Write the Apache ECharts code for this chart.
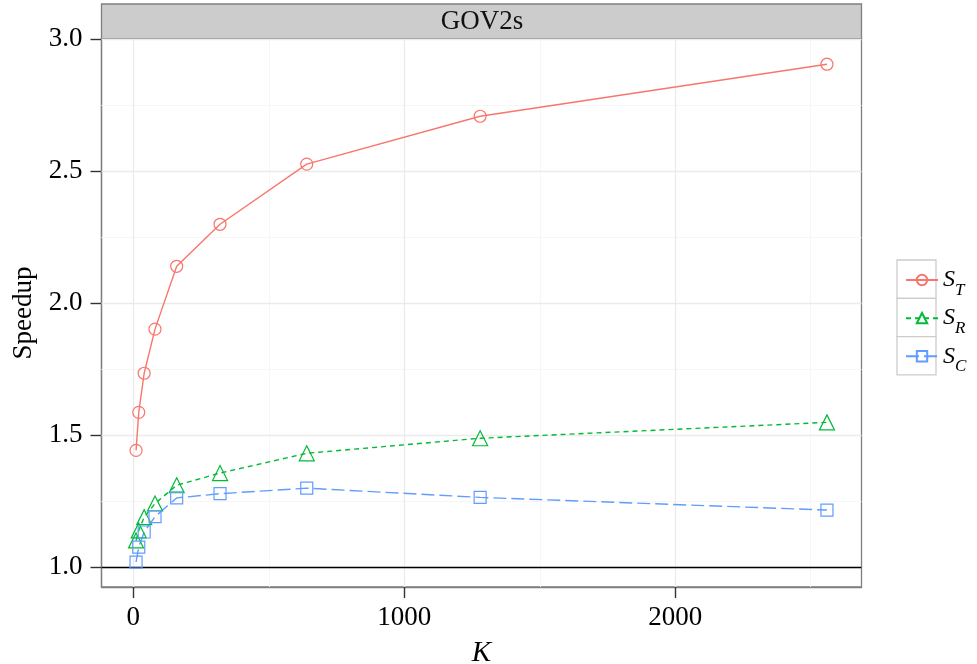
<!DOCTYPE html>
<html>
<head>
<meta charset="utf-8">
<script src="https://cdn.jsdelivr.net/npm/echarts@6/dist/echarts.min.js"></script>
<style>
html,body{margin:0;padding:0;background:#fff;}
#c{width:977px;height:664px;}
</style>
</head>
<body>
<div id="c"></div>
<script>
// ---- data ----
var K = [10, 20, 40, 80, 160, 320, 640, 1280, 2560];
var S_T = [1.443, 1.587, 1.735, 1.902, 2.140, 2.299, 2.527, 2.708, 2.905];
var S_R = [1.102, 1.140, 1.190, 1.242, 1.311, 1.357, 1.432, 1.489, 1.549];
var S_C = [1.020, 1.077, 1.134, 1.192, 1.263, 1.279, 1.300, 1.265, 1.217];
var xTicks = [0, 1000, 2000];
var xMinor = [500, 1500, 2500];
var yTicks = [1.0, 1.5, 2.0, 2.5, 3.0];
var yMinor = [1.25, 1.75, 2.25, 2.75];
var panelTitle = 'GOV2s';
var hlineY = 1;

var FONT = 'Liberation Serif';
var colors = {T: '#F8766D', R: '#00BA38', C: '#619CFF'};

function pairs(ys) { return K.map(function (k, i) { return [k, ys[i]]; }); }

var allY = S_T.concat(S_R, S_C);
var yLo = Math.min.apply(null, allY), yHi = Math.max.apply(null, allY);
var xLo = Math.min.apply(null, K), xHi = Math.max.apply(null, K);
var ex = (xHi - xLo) * 0.05, ey = (yHi - yLo) * 0.05;
var yMax = Math.max(yHi + ey, yTicks[yTicks.length - 1] + 0.0005);

var gridLines = [];
xMinor.forEach(function (v) { gridLines.push({xAxis: v, lineStyle: {color: '#F6F6F6', width: 1, type: 'solid'}}); });
yMinor.forEach(function (v) { gridLines.push({yAxis: v, lineStyle: {color: '#F6F6F6', width: 1, type: 'solid'}}); });
xTicks.forEach(function (v) { gridLines.push({xAxis: v, lineStyle: {color: '#EBEBEB', width: 1.3, type: 'solid'}}); });
yTicks.forEach(function (v) { gridLines.push({yAxis: v, lineStyle: {color: '#EBEBEB', width: 1.3, type: 'solid'}}); });
gridLines.push({yAxis: hlineY, lineStyle: {color: '#000', width: 1.4, type: 'solid'}});

function mkSeries(name, ys, color, symbol, size, dash) {
  return {
    name: name, type: 'line', data: pairs(ys), z: 3,
    symbol: symbol, symbolSize: size, showSymbol: true,
    lineStyle: {color: color, width: 1.4, type: dash},
    itemStyle: {color: 'rgba(255,255,255,0)', borderColor: color, borderWidth: 1.2},
    emphasis: {disabled: true}
  };
}

var chart = echarts.init(document.getElementById('c'), null, {renderer: 'canvas'});
chart.setOption({
  animation: false,
  backgroundColor: '#fff',
  grid: {left: 101.5, right: 115.5, top: 39, bottom: 77, show: true, containLabel: false,
         outerBoundsMode: 'none',
         borderColor: '#7F7F7F', borderWidth: 1.3, backgroundColor: '#fff'},
  xAxis: {
    type: 'value', min: xLo - ex, max: xHi + ex,
    name: 'K', nameLocation: 'middle', nameGap: 52,
    nameTextStyle: {fontFamily: FONT, fontStyle: 'italic', fontSize: 29, color: '#000'},
    axisLine: {show: true, onZero: false, lineStyle: {color: '#7F7F7F', width: 1.3}},
    axisTick: {show: true, length: 11, customValues: xTicks, lineStyle: {color: '#333', width: 1.4}},
    axisLabel: {customValues: xTicks, margin: 17, fontFamily: FONT, fontSize: 27, color: '#000',
                formatter: function (v) { return String(v); }},
    splitLine: {show: false}
  },
  yAxis: {
    type: 'value', min: yLo - ey, max: yMax,
    name: 'Speedup', nameLocation: 'middle', nameGap: 60, nameRotate: 90,
    nameTextStyle: {fontFamily: FONT, fontSize: 27, color: '#000'},
    axisLine: {show: true, onZero: false, lineStyle: {color: '#7F7F7F', width: 1.3}},
    axisTick: {show: true, length: 11, customValues: yTicks, lineStyle: {color: '#333', width: 1.4}},
    axisLabel: {customValues: yTicks, margin: 19, fontFamily: FONT, fontSize: 27, color: '#000',
                formatter: function (v) { return v.toFixed(1); }},
    splitLine: {show: false}
  },
  legend: {
    orient: 'vertical', left: 900, top: 263, itemGap: 7,
    itemWidth: 32, itemHeight: 13,
    data: ['S_T', 'S_R', 'S_C'],
    formatter: function (n) { return '{s|S}{t|' + n.split('_')[1] + '}'; },
    textStyle: {
      color: '#000',
      rich: {
        s: {fontFamily: FONT, fontStyle: 'italic', fontSize: 24, lineHeight: 38.3, verticalAlign: 'middle', color: '#000'},
        t: {fontFamily: FONT, fontStyle: 'italic', fontSize: 17, lineHeight: 27, verticalAlign: 'bottom', color: '#000'}
      }
    }
  },
  graphic: [
    {type: 'rect', z: 0, shape: {x: 101.5, y: 4, width: 760, height: 35},
     style: {fill: '#CCCCCC', stroke: '#7F7F7F', lineWidth: 1.3}},
    {type: 'text', z: 1, x: 482, y: 21.5,
     style: {text: panelTitle, fontFamily: FONT, fontSize: 27, fill: '#111', align: 'center', verticalAlign: 'middle'}},
    {type: 'rect', z: 0, shape: {x: 897, y: 260, width: 39, height: 38.3}, style: {fill: '#fff', stroke: '#CCCCCC', lineWidth: 1.3}},
    {type: 'rect', z: 0, shape: {x: 897, y: 298.3, width: 39, height: 38.3}, style: {fill: '#fff', stroke: '#CCCCCC', lineWidth: 1.3}},
    {type: 'rect', z: 0, shape: {x: 897, y: 336.6, width: 39, height: 38.3}, style: {fill: '#fff', stroke: '#CCCCCC', lineWidth: 1.3}}
  ],
  series: [
    {type: 'line', data: [], z: 1, silent: true,
     markLine: {silent: true, z: 1, symbol: ['none', 'none'], label: {show: false}, animation: false, data: gridLines}},
    mkSeries('S_T', S_T, colors.T, 'circle', 12, 'solid'),
    mkSeries('S_R', S_R, colors.R, 'triangle', 15, [5, 4]),
    mkSeries('S_C', S_C, colors.C, 'rect', 12, [13, 5])
  ]
});
</script>
</body>
</html>
